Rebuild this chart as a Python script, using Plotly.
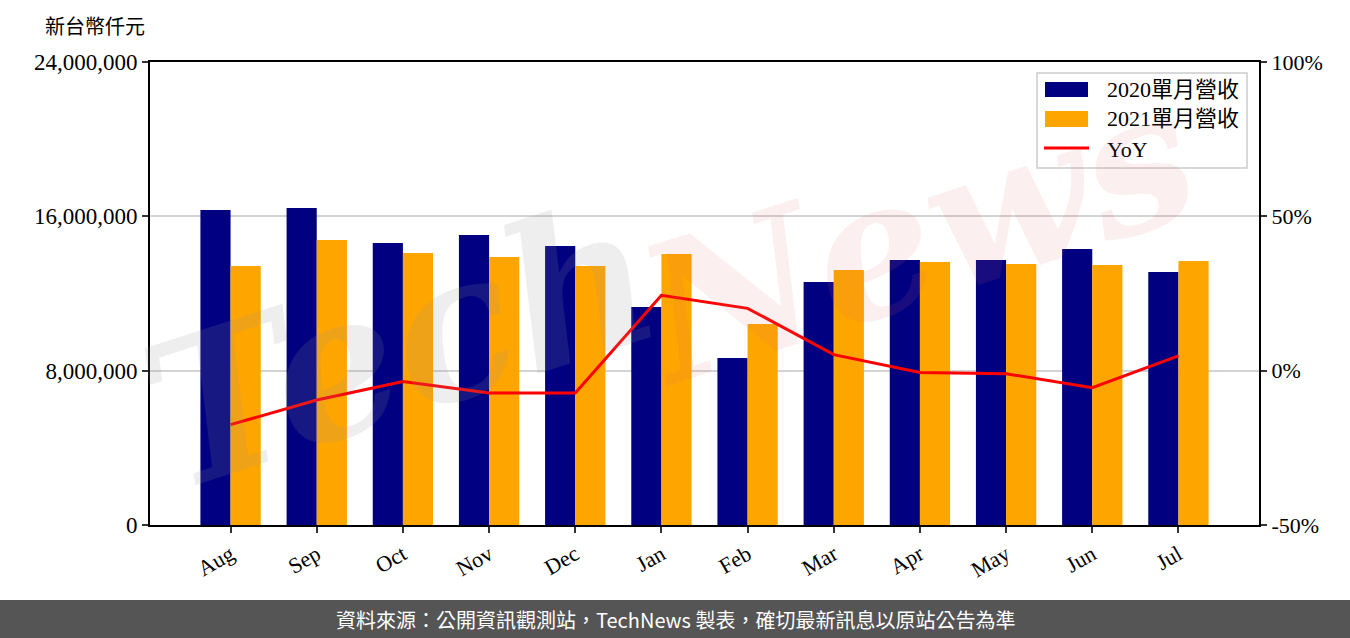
import plotly.graph_objects as go

months = ["Aug", "Sep", "Oct", "Nov", "Dec", "Jan", "Feb", "Mar", "Apr", "May", "Jun", "Jul"]
rev_2020 = [16330000, 16430000, 14620000, 15030000, 14460000, 11300000, 8660000, 12600000, 13740000, 13740000, 14310000, 13120000]
rev_2021 = [13430000, 14770000, 14100000, 13890000, 13430000, 14050000, 10420000, 13220000, 13630000, 13530000, 13480000, 13690000]
yoy = [-17.5, -9.5, -3.5, -7.2, -7.2, 24.4, 20.2, 5.2, -0.6, -1.0, -5.5, 4.8]

series_names = ["2020單月營收", "2021單月營收", "YoY"]
y_ticks = [0, 8000000, 16000000, 24000000]
y2_ticks = [-50, 0, 50, 100]
y2_labels = ["-50%", "0%", "50%", "100%"]

SERIF = "Liberation Serif, Noto Sans CJK TC, serif"
SANS = "Noto Sans CJK TC, Noto Sans, sans-serif"

W, H = 1350, 638
L, R, T, B = 150, 91, 62, 113
pw, ph = W - L - R, H - T - B

NAVY, ORANGE, RED = "#000080", "#FFA500", "#FF0000"


def px(xp):
    return (xp - L) / pw


def py(yp):
    return (T + ph - yp) / ph


fig = go.Figure()
fig.add_trace(go.Bar(x=months, y=rev_2020, name=series_names[0], marker=dict(color=NAVY, line=dict(width=0))))
fig.add_trace(go.Bar(x=months, y=rev_2021, name=series_names[1], marker=dict(color=ORANGE, line=dict(width=0))))
fig.add_trace(go.Scatter(x=months, y=yoy, name=series_names[2], mode="lines", line=dict(color=RED, width=3),
                         yaxis="y2"))

fig.update_layout(
    width=W, height=H,
    margin=dict(l=L, r=R, t=T, b=B, pad=0),
    paper_bgcolor="white", plot_bgcolor="white",
    barmode="group", bargap=0.3, bargroupgap=0,
    font=dict(family=SERIF, size=22, color="black"),
    showlegend=False,
    xaxis=dict(range=[-0.935, 11.935], showline=True, linecolor="black", linewidth=2, mirror=True,
               ticks="outside", ticklen=6, tickwidth=1.5, tickcolor="#333333", tickangle=-30,
               showgrid=False, zeroline=False, tickfont=dict(family=SERIF, size=22)),
    yaxis=dict(range=[0, 24000000], tickvals=y_ticks, tickformat=",d", showline=True, linecolor="black",
               linewidth=2, ticks="outside", ticklen=6, tickwidth=1.5, tickcolor="#333333",
               showgrid=True, gridcolor="#d3d3d3", gridwidth=1.5, zeroline=False,
               tickfont=dict(family=SERIF, size=23)),
    yaxis2=dict(range=[-50, 100], tickvals=y2_ticks, ticktext=y2_labels, overlaying="y", side="right",
                showline=True, linecolor="black", linewidth=2, ticks="outside", ticklen=6, tickwidth=1.5,
                tickcolor="#333333", showgrid=False, zeroline=False, tickfont=dict(family=SERIF, size=22)),
)

# legend (drawn to mimic the reference's wide patches)
fig.add_shape(type="rect", xref="paper", yref="paper", x0=px(1037), x1=px(1247), y0=py(168), y1=py(73),
              fillcolor="rgba(255,255,255,0.8)", line=dict(color="#cccccc", width=1.5), layer="above")
fig.add_shape(type="rect", xref="paper", yref="paper", x0=px(1045), x1=px(1088), y0=py(97), y1=py(82),
              fillcolor=NAVY, line=dict(width=0), layer="above")
fig.add_shape(type="rect", xref="paper", yref="paper", x0=px(1045), x1=px(1088), y0=py(127), y1=py(111),
              fillcolor=ORANGE, line=dict(width=0), layer="above")
fig.add_shape(type="line", xref="paper", yref="paper", x0=px(1044), x1=px(1089), y0=py(148), y1=py(148),
              line=dict(color=RED, width=3), layer="above")
for name, yy in zip(series_names, [89, 119, 149]):
    fig.add_annotation(text=name, xref="paper", yref="paper", x=px(1105), y=py(yy), showarrow=False,
                       xanchor="left", yanchor="middle", font=dict(family=SERIF, size=22, color="black"))

# footer band
fig.add_shape(type="rect", xref="paper", yref="paper",
              x0=-L / pw, x1=1 + R / pw, y0=-B / ph, y1=py(600),
              fillcolor="#555555", line=dict(width=0), layer="above")
fig.add_annotation(text="資料來源：公開資訊觀測站，TechNews 製表，確切最新訊息以原站公告為準",
                   xref="paper", yref="paper", x=px(675), y=py(619),
                   showarrow=False, font=dict(family=SANS, size=20, color="white"),
                   xanchor="center", yanchor="middle")
# unit label
fig.add_annotation(text="新台幣仟元", xref="paper", yref="paper",
                   x=px(95), y=py(27), showarrow=False,
                   font=dict(family=SERIF, size=20, color="black"), xanchor="center", yanchor="middle")
# watermark
fig.add_annotation(text="<i><b>Tech</b></i>", xref="paper", yref="paper",
                   x=px(400), y=py(345), showarrow=False, textangle=-18,
                   font=dict(family="DejaVu Serif", size=200, color="rgba(150,150,150,0.16)"),
                   xanchor="center", yanchor="middle")
fig.add_annotation(text="<i><b>News</b></i>", xref="paper", yref="paper",
                   x=px(915), y=py(235), showarrow=False, textangle=-18,
                   font=dict(family="DejaVu Serif", size=190, color="rgba(220,110,110,0.11)"),
                   xanchor="center", yanchor="middle")

fig.write_html("out.html", config={"displayModeBar": False},
               post_script="document.body.style.margin='0';document.body.style.overflow='hidden';")
